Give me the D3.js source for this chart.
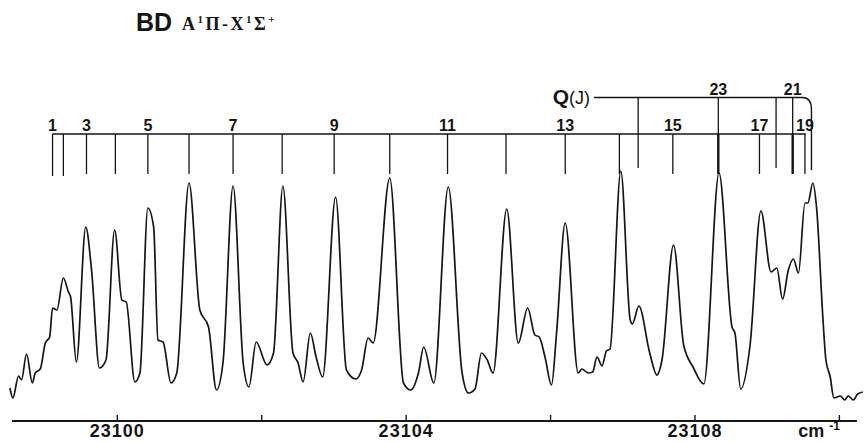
<!DOCTYPE html>
<html>
<head>
<meta charset="utf-8">
<script src="https://cdn.jsdelivr.net/npm/d3@7"></script>
<style>
body { margin: 0; background: #fff; }
svg { display: block; }
</style>
</head>
<body>
<div id="chart"></div>
<script>
// spectrum trace: wavenumber (cm-1) and relative intensity
var traceWn = [
  23098.52, 23098.56, 23098.64, 23098.68, 23098.75, 23098.83, 23098.87, 23098.94, 23099.01, 23099.07,
  23099.11, 23099.17, 23099.26, 23099.33, 23099.36, 23099.44, 23099.57, 23099.65, 23099.76, 23099.85,
  23099.97, 23100.07, 23100.13, 23100.25, 23100.32, 23100.43, 23100.51, 23100.57, 23100.64, 23100.75,
  23100.83, 23101.00, 23101.15, 23101.27, 23101.38, 23101.47, 23101.61, 23101.75, 23101.83, 23101.93,
  23102.08, 23102.17, 23102.30, 23102.44, 23102.51, 23102.58, 23102.68, 23102.76, 23102.85, 23103.03,
  23103.18, 23103.31, 23103.39, 23103.48, 23103.55, 23103.78, 23103.97, 23104.07, 23104.18, 23104.25,
  23104.39, 23104.59, 23104.78, 23104.87, 23104.96, 23105.05, 23105.13, 23105.21, 23105.40, 23105.56,
  23105.69, 23105.79, 23105.85, 23105.93, 23106.02, 23106.09, 23106.21, 23106.39, 23106.44, 23106.53,
  23106.59, 23106.65, 23106.72, 23106.78, 23106.83, 23106.98, 23107.11, 23107.14, 23107.23, 23107.38,
  23107.48, 23107.55, 23107.71, 23107.85, 23107.98, 23108.13, 23108.34, 23108.52, 23108.56, 23108.64,
  23108.77, 23108.92, 23109.06, 23109.14, 23109.22, 23109.30, 23109.37, 23109.44, 23109.53, 23109.57,
  23109.64, 23109.69, 23109.78, 23109.82, 23109.88, 23109.93, 23110.02, 23110.08, 23110.13, 23110.20,
  23110.26, 23110.33
];
var traceI = [
  12, 2, 24, 20, 46, 17, 27, 31, 57, 63,
  92, 90, 122, 108, 103, 38, 173, 130, 32, 40,
  170, 100, 98, 18, 27, 192, 173, 60, 58, 17,
  27, 217, 90, 73, 10, 37, 214, 37, 13, 58,
  35, 47, 214, 47, 37, 18, 67, 43, 23, 203,
  30, 21, 30, 62, 57, 222, 17, 10, 28, 53,
  17, 213, 28, 7, 11, 47, 40, 27, 191, 57,
  92, 65, 63, 43, 15, 67, 177, 27, 31, 27,
  28, 43, 34, 49, 51, 229, 80, 76, 94, 47,
  25, 40, 155, 55, 33, 16, 227, 73, 67, 11,
  55, 189, 128, 132, 101, 130, 141, 127, 197, 197,
  217, 193, 80, 40, 23, 2, 4, 0, 4, 0,
  6, 8
];

// R branch line positions, J = 1..19
var rJ = d3.range(1, 20);
var rWn = [
  23099.11, 23099.26, 23099.58, 23099.98, 23100.43, 23101.00, 23101.61, 23102.29, 23103.01, 23103.78,
  23104.58, 23105.39, 23106.21, 23106.96, 23107.70, 23108.33, 23108.90, 23109.36, 23109.53
];
var rLabelled = [1, 3, 5, 7, 9, 11, 13, 15, 17, 19];

// Q branch line positions
var qJ = [24, 23, 22, 21, 20];
var qWn = [23107.22, 23108.33, 23109.13, 23109.36, 23109.62];
var qLabelled = [23, 21];

var axisTicks = [23100, 23102, 23104, 23106, 23108, 23110];
var axisLabels = ["23100", "", "23104", "", "23108", ""];

var width = 864, height = 442;

var svg = d3.select("#chart").append("svg")
  .attr("width", width)
  .attr("height", height);

var x = d3.scaleLinear().domain([23098.5, 23110.5]).range([8.5, 875]);
var y = d3.scaleLinear().domain([0, 230]).range([400, 170]);

var ink = "#151515";

// title
svg.append("text")
  .attr("x", 136).attr("y", 31)
  .style("font", "bold 25px 'Liberation Sans', Arial, sans-serif")
  .attr("fill", ink)
  .text("BD");

var sub = svg.append("text")
  .attr("x", 182).attr("y", 30)
  .style("font", "bold 18px 'Liberation Serif', serif")
  .attr("letter-spacing", 2.5)
  .attr("fill", ink);
[["A", 0], ["1", -1], ["\u03A0", 1], ["-", 0], ["X", 0], ["1", -1], ["\u03A3", 1], ["+", -1]].forEach(function(p) {
  var t = sub.append("tspan").text(p[0]);
  if (p[1] === -1) t.attr("dy", -7).attr("font-size", 11);
  if (p[1] === 1) t.attr("dy", 7);
});

// trace
var line = d3.line()
  .x(function(d, i) { return x(traceWn[i]); })
  .y(function(d, i) { return y(traceI[i]); })
  .curve(d3.curveMonotoneX);

svg.append("path")
  .datum(traceWn)
  .attr("d", line)
  .attr("fill", "none")
  .attr("stroke", ink)
  .attr("stroke-width", 1.7)
  .attr("stroke-linejoin", "round");

// R branch comb
var rY = 134, rBottom = 174;
var comb = svg.append("g").attr("stroke", ink).attr("fill", "none");
comb.append("line")
  .attr("x1", x(rWn[0])).attr("x2", x(rWn[rWn.length - 1]) + 1)
  .attr("y1", rY).attr("y2", rY)
  .attr("stroke-width", 1.4);
comb.selectAll(".rtick")
  .data(rJ).enter().append("line")
  .attr("class", "rtick")
  .attr("x1", function(d, i) { return x(rWn[i]); })
  .attr("x2", function(d, i) { return x(rWn[i]); })
  .attr("y1", rY)
  .attr("y2", function(d) { return d <= 2 ? rBottom + 2 : rBottom; })
  .attr("stroke-width", function(d) { return d === 16 || d === 18 ? 2.4 : 1.3; });

svg.selectAll(".rlabel")
  .data(rJ.filter(function(d) { return rLabelled.indexOf(d) >= 0; }))
  .enter().append("text")
  .attr("class", "rlabel")
  .attr("x", function(d) { return x(rWn[d - 1]); })
  .attr("y", rY - 3)
  .attr("text-anchor", "middle")
  .style("font", "bold 16px 'Liberation Sans', Arial, sans-serif")
  .attr("fill", ink)
  .text(function(d) { return d; });

// Q branch comb
var qY = 97.5, qBottom = 168;
var qEnd = x(qWn[qWn.length - 1]);
comb.append("path")
  .attr("d", "M594," + qY + "H" + (qEnd - 9) + "Q" + qEnd + "," + qY + " " + qEnd + "," + (qY + 12) + "V170")
  .attr("stroke-width", 1.4);
comb.selectAll(".qtick")
  .data(qJ.slice(0, qJ.length - 1)).enter().append("line")
  .attr("class", "qtick")
  .attr("x1", function(d, i) { return x(qWn[i]); })
  .attr("x2", function(d, i) { return x(qWn[i]); })
  .attr("y1", qY)
  .attr("y2", qBottom)
  .attr("stroke-width", 1.3);

svg.selectAll(".qlabel")
  .data(qLabelled)
  .enter().append("text")
  .attr("class", "qlabel")
  .attr("x", function(d) { return x(qWn[qJ.indexOf(d)]); })
  .attr("y", qY - 3)
  .attr("text-anchor", "middle")
  .style("font", "bold 16px 'Liberation Sans', Arial, sans-serif")
  .attr("fill", ink)
  .text(function(d) { return d; });

var ql = svg.append("text")
  .attr("x", 590).attr("y", 103.5)
  .attr("text-anchor", "end")
  .attr("fill", ink);
ql.append("tspan").style("font", "bold 21px 'Liberation Sans', Arial, sans-serif").text("Q");
ql.append("tspan").style("font", "18px 'Liberation Sans', Arial, sans-serif").text("(J)");

// wavenumber axis
var xAxis = d3.axisBottom(x)
  .tickValues(axisTicks)
  .tickSizeInner(-6)
  .tickSizeOuter(0)
  .tickPadding(3)
  .tickFormat(function(d, i) { return axisLabels[i]; });

var gx = svg.append("g")
  .attr("transform", "translate(0,421)")
  .call(xAxis);
gx.select(".domain").remove();
gx.selectAll(".tick line").attr("stroke", ink).attr("stroke-width", 1.4);
gx.selectAll(".tick text")
  .style("font", "bold 18px 'Liberation Sans', Arial, sans-serif")
  .attr("letter-spacing", 1)
  .attr("fill", ink);

svg.append("line")
  .attr("x1", x(23098.55)).attr("x2", x(23110.25))
  .attr("y1", 421).attr("y2", 421)
  .attr("stroke", ink)
  .attr("stroke-width", 2.2);

var cm = svg.append("text")
  .attr("x", x(23110) + 1).attr("y", 437)
  .attr("text-anchor", "end")
  .style("font", "bold 18px 'Liberation Sans', Arial, sans-serif")
  .attr("fill", ink);
cm.append("tspan").text("cm ");
cm.append("tspan").attr("dy", -7).attr("font-size", 12).text("-1");
</script>
</body>
</html>
